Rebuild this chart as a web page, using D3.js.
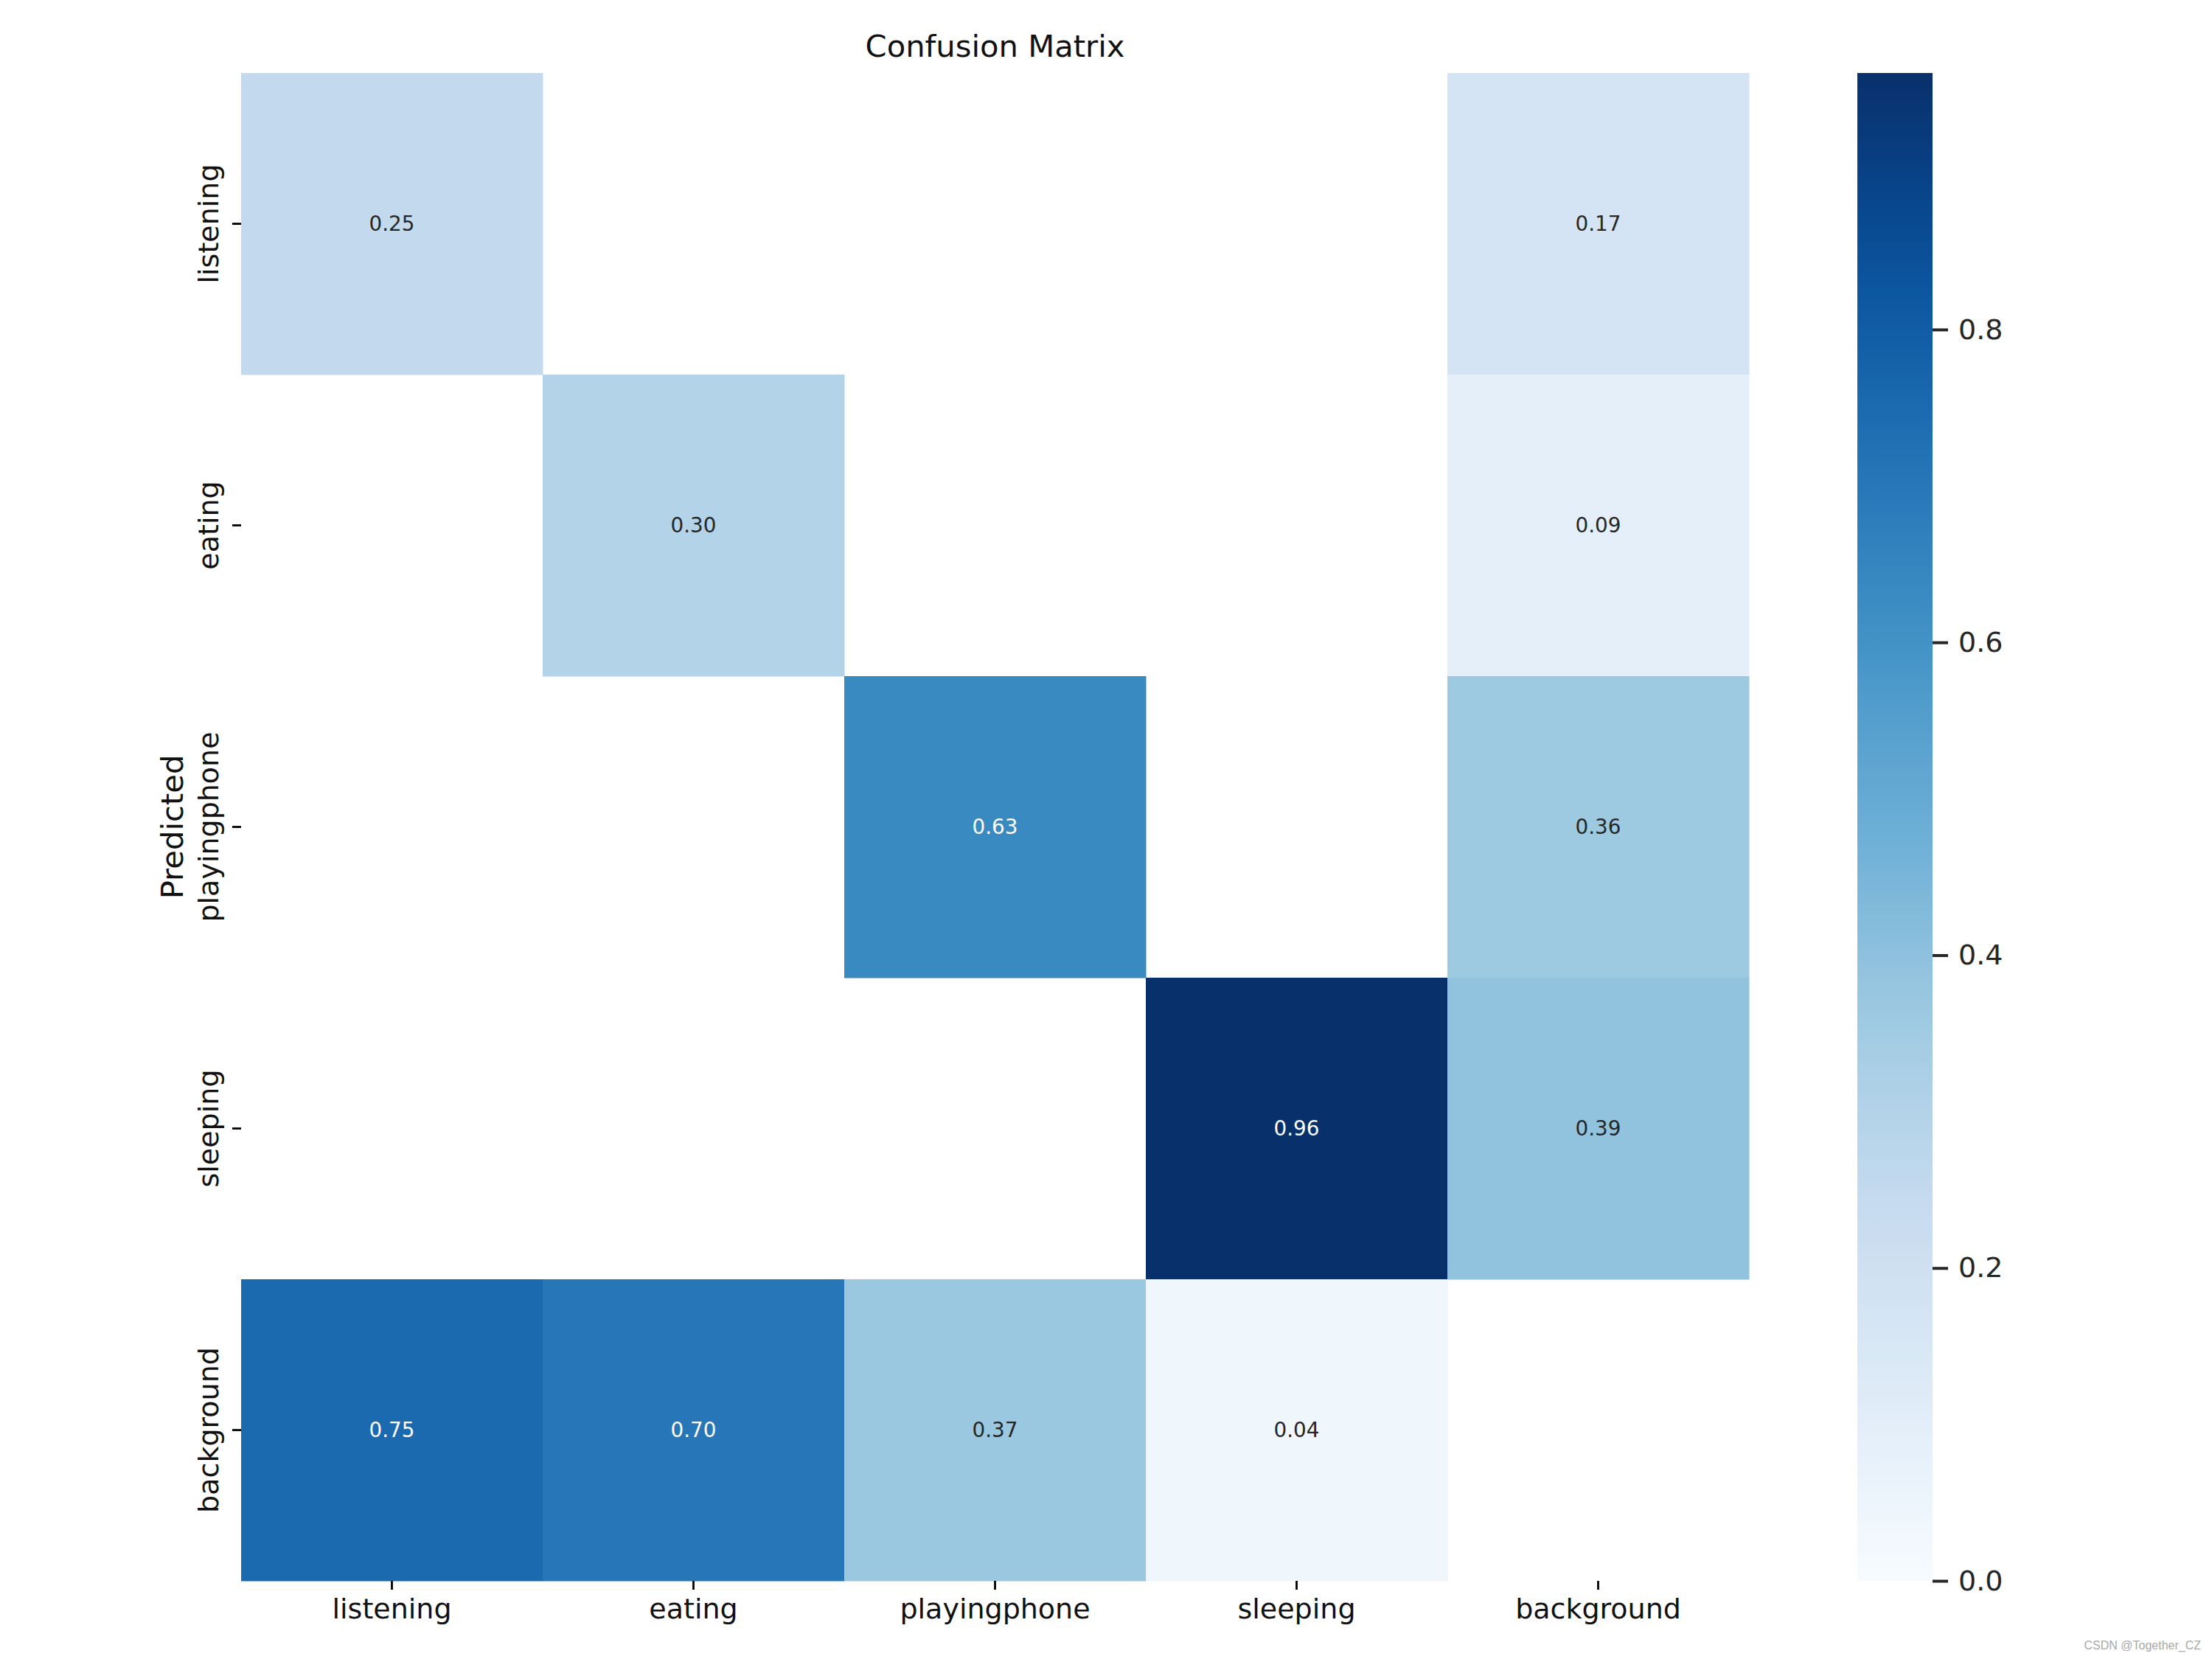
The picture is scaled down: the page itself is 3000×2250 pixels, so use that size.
<!DOCTYPE html>
<html>
<head>
<meta charset="utf-8">
<script src="https://cdn.jsdelivr.net/npm/d3@7"></script>
<style>
  body { margin: 0; background: #fff; }
  svg { display: block; font-family: "DejaVu Sans", sans-serif; }
</style>
</head>
<body>
<div id="chart"></div>
<script>
// class names, same order on both axes
const classes = ["listening", "eating", "playingphone", "sleeping", "background"];

// one row per predicted class, columns are the true class (null = blank cell)
const rowListening    = [0.25, null, null, null, 0.17];
const rowEating       = [null, 0.30, null, null, 0.09];
const rowPlayingphone = [null, null, 0.63, null, 0.36];
const rowSleeping     = [null, null, null, 0.964, 0.39];
const rowBackground   = [0.75, 0.70, 0.37, 0.04, null];
const rows = [rowListening, rowEating, rowPlayingphone, rowSleeping, rowBackground];

const colorbarTicks = [0.0, 0.2, 0.4, 0.6, 0.8];

// matplotlib "Blues" anchor colours
const blues = ["#f7fbff", "#deebf7", "#c6dbef", "#9ecae1", "#6baed6",
               "#4292c6", "#2171b5", "#08519c", "#08306b"];

const width = 3000, height = 2250;
const plotLeft = 327, plotTop = 99, cell = 409;
const plotRight = plotLeft + cell * classes.length;
const plotBottom = plotTop + cell * classes.length;
const cbLeft = 2519, cbWidth = 102;

const cells = [];
rows.forEach((r, i) => r.forEach((v, j) => {
    if (v != null) cells.push({ row: classes[i], col: classes[j], value: v });
}));

const vmax = d3.max(cells, d => d.value);
const color = d3.scaleLinear()
    .domain(blues.map((c, i) => vmax * i / (blues.length - 1)))
    .range(blues)
    .interpolate(d3.interpolateRgb);

const x = d3.scaleBand().domain(classes).range([plotLeft, plotRight]);
const y = d3.scaleBand().domain(classes).range([plotTop, plotBottom]);

const svg = d3.select("#chart").append("svg")
    .attr("width", width)
    .attr("height", height);

// cells
svg.append("g")
    .selectAll("rect")
    .data(cells)
    .join("rect")
    .attr("x", d => x(d.col))
    .attr("y", d => y(d.row))
    .attr("width", x.bandwidth() + 0.5)
    .attr("height", y.bandwidth() + 0.5)
    .attr("fill", d => color(d.value));

// annotation colour like seaborn: dark text on light cells, white otherwise
function luminance(c) {
    const rgb = d3.rgb(c);
    const lin = [rgb.r, rgb.g, rgb.b].map(v => {
        v = v / 255;
        return v <= 0.03928 ? v / 12.92 : Math.pow((v + 0.055) / 1.055, 2.4);
    });
    return 0.2126 * lin[0] + 0.7152 * lin[1] + 0.0722 * lin[2];
}

svg.append("g")
    .selectAll("text")
    .data(cells)
    .join("text")
    .attr("x", d => x(d.col) + x.bandwidth() / 2)
    .attr("y", d => y(d.row) + y.bandwidth() / 2)
    .attr("text-anchor", "middle")
    .attr("dominant-baseline", "central")
    .attr("font-size", 27.8)
    .attr("fill", d => luminance(color(d.value)) > 0.408 ? "#262626" : "#ffffff")
    .text(d => d.value.toFixed(2));

// x axis
const gx = svg.append("g")
    .attr("transform", `translate(0,${plotBottom})`)
    .call(d3.axisBottom(x).tickSize(12).tickPadding(12));
gx.select(".domain").remove();
gx.selectAll("line").attr("stroke", "#000").attr("stroke-width", 2.8);
gx.selectAll("text").attr("font-size", 38).attr("fill", "#111").attr("font-family", "DejaVu Sans");

// y axis, labels turned vertical
const gy = svg.append("g")
    .attr("transform", `translate(${plotLeft},0)`)
    .call(d3.axisLeft(y).tickSize(12));
gy.select(".domain").remove();
gy.selectAll("line").attr("stroke", "#000").attr("stroke-width", 2.8);
gy.selectAll("text")
    .attr("x", null).attr("dy", null)
    .attr("text-anchor", "middle")
    .attr("transform", "translate(-31,0) rotate(-90)")
    .attr("font-size", 38).attr("fill", "#111").attr("font-family", "DejaVu Sans");

svg.append("text")
    .attr("transform", `translate(248,${(plotTop + plotBottom) / 2}) rotate(-90)`)
    .attr("text-anchor", "middle")
    .attr("font-size", 41.7)
    .attr("fill", "#111")
    .text("Predicted");

svg.append("text")
    .attr("x", (plotLeft + plotRight) / 2)
    .attr("y", 77)
    .attr("text-anchor", "middle")
    .attr("font-size", 41.7)
    .attr("fill", "#111")
    .text("Confusion Matrix");

// colorbar
const cbScale = d3.scaleLinear().domain([0, vmax]).range([plotBottom, plotTop]);
const grad = svg.append("defs").append("linearGradient")
    .attr("id", "cbGrad")
    .attr("x1", 0).attr("y1", 1).attr("x2", 0).attr("y2", 0);
grad.selectAll("stop")
    .data(d3.range(0, 1.0001, 0.05))
    .join("stop")
    .attr("offset", t => t)
    .attr("stop-color", t => color(t * vmax));

svg.append("rect")
    .attr("x", cbLeft)
    .attr("y", plotTop)
    .attr("width", cbWidth)
    .attr("height", plotBottom - plotTop)
    .attr("fill", "url(#cbGrad)");

const gc = svg.append("g")
    .attr("transform", `translate(${cbLeft + cbWidth},0)`)
    .call(d3.axisRight(cbScale).tickValues(colorbarTicks).tickFormat(d3.format(".1f"))
        .tickSize(21).tickPadding(14));
gc.select(".domain").remove();
gc.selectAll("line").attr("stroke", "#262626").attr("stroke-width", 4);
gc.selectAll("text").attr("font-size", 38).attr("fill", "#262626").attr("font-family", "DejaVu Sans");

// watermark
svg.append("text")
    .attr("x", 2985)
    .attr("y", 2237)
    .attr("text-anchor", "end")
    .attr("font-family", "Liberation Sans, sans-serif")
    .attr("font-size", 16)
    .attr("fill", "#a8a8a8")
    .text("CSDN @Together_CZ");
</script>
</body>
</html>
